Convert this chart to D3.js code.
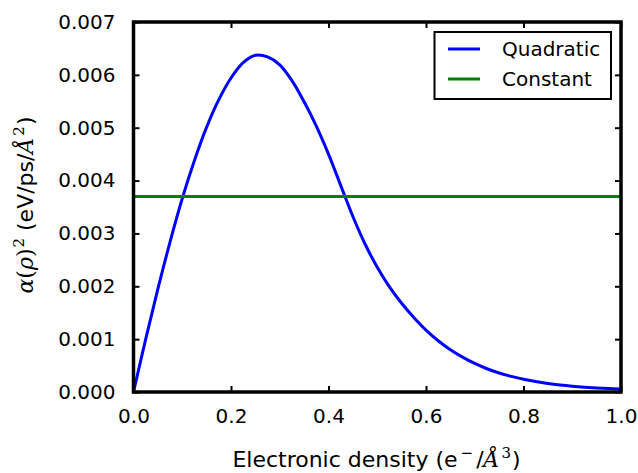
<!DOCTYPE html>
<html>
<head>
<meta charset="utf-8">
<script src="https://cdn.jsdelivr.net/npm/d3@7"></script>
<style>
  html, body { margin: 0; padding: 0; background: #fff; }
  svg { display: block; }
  text { font-family: "DejaVu Sans", sans-serif; }
</style>
</head>
<body>
<svg id="chart" width="638" height="473"></svg>
<script>
// ---- data ----
const densityX = [0, 0.025, 0.05, 0.075, 0.10, 0.125, 0.15, 0.175, 0.20, 0.225,
                  0.25, 0.275, 0.30, 0.325, 0.35, 0.375, 0.40, 0.425, 0.45, 0.475,
                  0.50, 0.525, 0.55, 0.575, 0.60, 0.625, 0.65, 0.675, 0.70, 0.725,
                  0.75, 0.775, 0.80, 0.825, 0.85, 0.875, 0.90, 0.925, 0.95, 0.975, 1.0];
const quadraticY = [0, 0.00100, 0.00195, 0.00284, 0.00366, 0.00438, 0.00501, 0.00553, 0.00594, 0.00623,
                    0.00637, 0.00634, 0.00619, 0.00589, 0.00549, 0.00503, 0.00450, 0.00391, 0.00332, 0.00280,
                    0.00236, 0.00199, 0.00168, 0.00141, 0.00117, 0.00097, 0.00080, 0.00066, 0.00054, 0.00044,
                    0.00036, 0.000295, 0.00024, 0.000197, 0.000162, 0.000134, 0.000111, 0.000092, 0.000077, 0.000065, 0.000055];
const constantX = [0, 1];
const constantY = [0.0037, 0.0037];
const seriesNames = ["Quadratic", "Constant"];
const xTicks = [0, 0.2, 0.4, 0.6, 0.8, 1.0];
const yTicks = [0, 0.001, 0.002, 0.003, 0.004, 0.005, 0.006, 0.007];

// ---- layout ----
const svg = d3.select("#chart");
const L = 133.5, T = 22, W = 487.5, H = 370;
const x = d3.scaleLinear().domain([0, 1]).range([L, L + W]);
const y = d3.scaleLinear().domain([0, 0.007]).range([T + H, T]);
const FS = 20, LFS = 22;

// series
const quadPts = densityX.map((v, i) => [v, quadraticY[i]]);
const constPts = constantX.map((v, i) => [v, constantY[i]]);
svg.append("path").datum(quadPts)
  .attr("d", d3.line().x(d => x(d[0])).y(d => y(d[1])).curve(d3.curveCatmullRom.alpha(0.5)))
  .attr("fill", "none").attr("stroke", "#0000ff").attr("stroke-width", 3);
svg.append("path").datum(constPts)
  .attr("d", d3.line().x(d => x(d[0])).y(d => y(d[1])))
  .attr("fill", "none").attr("stroke", "#008000").attr("stroke-width", 3);

// axes (ticks inward on all four sides)
function styleAxis(g) {
  g.select(".domain").remove();
  g.selectAll(".tick line").attr("stroke", "#000").attr("stroke-width", 2);
  g.selectAll(".tick text").attr("font-size", FS).attr("font-family", "DejaVu Sans").attr("fill", "#000");
}
const xb = svg.append("g").attr("transform", `translate(0,${T + H})`)
  .call(d3.axisBottom(x).tickValues(xTicks).tickFormat(d3.format(".1f")).tickSizeInner(-6).tickPadding(14));
styleAxis(xb);
xb.selectAll(".tick text").attr("dy", "0.71em").attr("y", 17);
const xt = svg.append("g").attr("transform", `translate(0,${T})`)
  .call(d3.axisTop(x).tickValues(xTicks).tickFormat("").tickSizeInner(-6));
styleAxis(xt);
const yl = svg.append("g").attr("transform", `translate(${L},0)`)
  .call(d3.axisLeft(y).tickValues(yTicks).tickFormat(d3.format(".3f")).tickSizeInner(-6).tickPadding(18));
styleAxis(yl);
yl.selectAll(".tick text").attr("x", -18);
const yr = svg.append("g").attr("transform", `translate(${L + W},0)`)
  .call(d3.axisRight(y).tickValues(yTicks).tickFormat("").tickSizeInner(-6));
styleAxis(yr);

// frame
svg.append("rect").attr("x", L).attr("y", T).attr("width", W).attr("height", H)
  .attr("fill", "none").attr("stroke", "#000").attr("stroke-width", 3.5);

// x label
const xlab = svg.append("text").attr("x", 376.5).attr("y", 467)
  .attr("text-anchor", "middle").attr("font-size", LFS).attr("fill", "#000");
xlab.append("tspan").text("Electronic density (e");
xlab.append("tspan").attr("dy", -9).attr("font-size", 15).attr("dx", 3).text("\u2212");
xlab.append("tspan").attr("dy", 9).attr("dx", 3).text("/");
xlab.append("tspan").attr("font-family", "DejaVu Serif").attr("font-style", "italic").text("\u00C5");
xlab.append("tspan").attr("dy", -9).attr("font-size", 15).attr("font-family", "DejaVu Serif").attr("dx", 2).text("3");
xlab.append("tspan").attr("dy", 9).attr("dx", 1).text(")");

// y label
const ylab = svg.append("text")
  .attr("transform", `translate(33,205) rotate(-90)`)
  .attr("text-anchor", "middle").attr("font-size", LFS).attr("fill", "#000");
ylab.append("tspan").attr("font-family", "DejaVu Serif").attr("font-style", "italic").text("\u03B1");
ylab.append("tspan").attr("font-family", "DejaVu Serif").text("(");
ylab.append("tspan").attr("font-family", "DejaVu Serif").attr("font-style", "italic").text("\u03C1");
ylab.append("tspan").attr("font-family", "DejaVu Serif").text(")");
ylab.append("tspan").attr("dy", -9).attr("font-size", 15).attr("font-family", "DejaVu Serif").attr("dx", 1).text("2");
ylab.append("tspan").attr("dy", 9).text(" (eV/ps/");
ylab.append("tspan").attr("font-family", "DejaVu Serif").attr("font-style", "italic").text("\u00C5");
ylab.append("tspan").attr("dy", -9).attr("font-size", 15).attr("font-family", "DejaVu Serif").attr("dx", 2).text("2");
ylab.append("tspan").attr("dy", 9).attr("dx", 1).text(")");

// legend
const lg = svg.append("g");
lg.append("rect").attr("x", 434.5).attr("y", 32).attr("width", 176.5).attr("height", 67)
  .attr("fill", "#fff").attr("stroke", "#000").attr("stroke-width", 2);
const legColors = ["#0000ff", "#008000"];
seriesNames.forEach((name, i) => {
  const cy = 49 + i * 30;
  lg.append("line").attr("x1", 448).attr("x2", 480).attr("y1", cy).attr("y2", cy)
    .attr("stroke", legColors[i]).attr("stroke-width", 3);
  lg.append("text").attr("x", 502).attr("y", cy + 7).attr("font-size", FS).attr("fill", "#000").text(name);
});
</script>
</body>
</html>
